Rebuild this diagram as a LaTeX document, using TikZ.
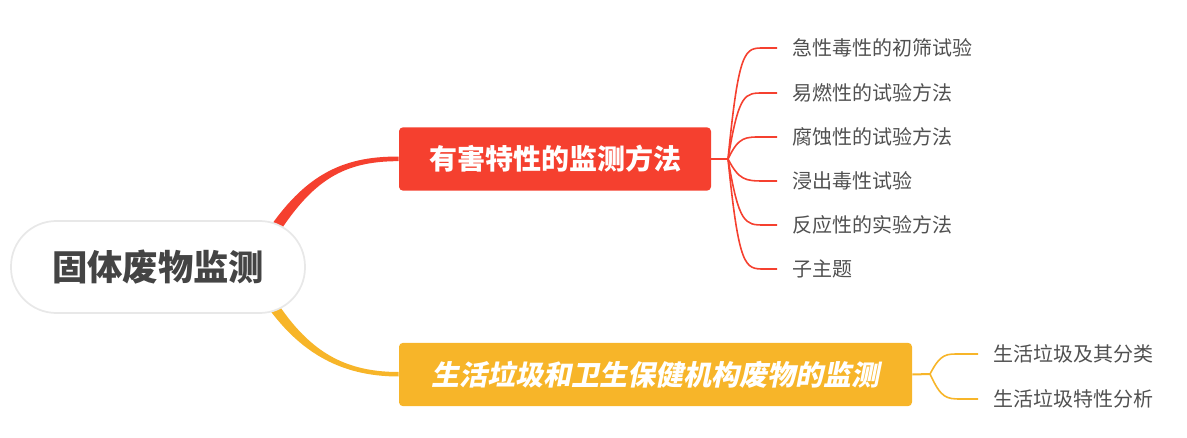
\documentclass[tikz,border=0pt]{standalone}
\usepackage{fontspec}
\setmainfont{Noto Sans CJK SC}
\newfontfamily\penche[FakeSlant=0.2, BoldFeatures={FakeSlant=0.2}]{Noto Sans CJK SC}
\usepackage{tikz}
\usetikzlibrary{calc}
\definecolor{carteRouge}{RGB}{245,64,47}
\definecolor{carteJaune}{RGB}{247,181,41}
\definecolor{carteTexte}{RGB}{68,68,68}
\definecolor{carteFeuille}{RGB}{80,80,80}

\begin{document}
\begin{tikzpicture}[
  x=0.75pt, y=-0.75pt,
  racine/.style={draw=black!9, line width=1.3pt, fill=white, rounded corners=34pt,
                 minimum width=220.5pt, minimum height=69pt, inner sep=0pt,
                 font=\fontsize{26.5}{30}\selectfont\bfseries, text=carteTexte},
  branche/.style={rounded corners=3pt, minimum height=47.5pt, inner sep=0pt,
                  font=\fontsize{21}{25}\selectfont\bfseries, text=white},
  feuille/.style={anchor=west, inner xsep=11.25pt, inner ysep=2pt,
                  font=\fontsize{15}{18}\selectfont, text=carteFeuille},
  lienR/.style={draw=carteRouge, line width=1.2pt},
  lienJ/.style={draw=carteJaune, line width=1.2pt}
]
\useasboundingbox (0,0) rectangle (1187,438);

% ---- les deux branches principales ----
\node[branche, fill=carteRouge, minimum width=234pt] (haz) at (555,159) {有害特性的监测方法};
\node[branche, fill=carteJaune, minimum width=384.75pt] (msw) at (655.5,374.5)
     {\penche\bfseries 生活垃圾和卫生保健机构废物的监测};

% ---- liaisons effilees depuis la racine (dessinees sous la racine) ----
\coordinate (rc) at (158,267);
\fill[carteRouge] ($(rc)+(103.3,-26.9)$) .. controls (301,177) and (340,156) .. ($(haz.west)+(0,-2.4)$)
     -- ($(haz.west)+(0,2.2)$) .. controls (340,161) and (309,183) .. ($(rc)+(112.7,-21.1)$) -- cycle;
\fill[carteJaune] ($(rc)+(110.7,22.1)$) .. controls (304,348) and (340,372) .. ($(msw.west)+(0,-2.5)$)
     -- ($(msw.west)+(0,2.0)$) .. controls (340,376.5) and (296,352) .. ($(rc)+(101.3,27.9)$) -- cycle;

\node[racine] (root) at (rc) {固体废物监测};

% ---- sous-themes de la branche rouge ----
\coordinate (hj) at (728,159);
\draw[lienR, line width=1.5pt] (haz.east) -- (hj);
\foreach \nom/\yy/\txt in {h1/47/急性毒性的初筛试验, h2/92/易燃性的试验方法, h3/136/腐蚀性的试验方法,
                           h4/180/浸出毒性试验, h5/224/反应性的实验方法, h6/268/子主题} {
  \node[feuille] (\nom) at (777,\yy+1) {\txt};
  \draw[lienR] (hj) .. controls (739,\yy) and (745,\yy+1) .. (764,\yy+1) -- (\nom.west);
}

% ---- sous-themes de la branche jaune ----
\coordinate (mj) at (930,374);
\draw[lienJ, line width=1.5pt] (msw.east) -- (mj);
\foreach \nom/\yy/\txt in {m1/353/生活垃圾及其分类, m2/398/生活垃圾特性分析} {
  \node[feuille] (\nom) at (978,\yy+1) {\txt};
  \draw[lienJ] (mj) .. controls (941,\yy) and (946,\yy+1) .. (961,\yy+1) -- (\nom.west);
}

\end{tikzpicture}
\end{document}
